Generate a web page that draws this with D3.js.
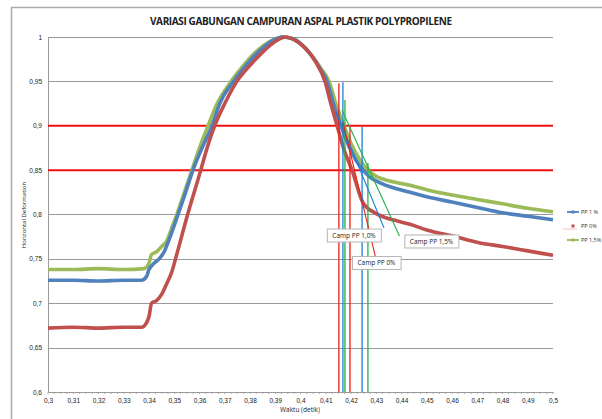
<!DOCTYPE html>
<html>
<head>
<meta charset="utf-8">
<script src="https://cdn.jsdelivr.net/npm/d3@7/dist/d3.min.js"></script>
<style>
  body { margin: 0; background: #fff; }
  svg { display: block; font-family: "Open Sans", "Liberation Sans", sans-serif; }
  .tick text { fill: #222; }
</style>
</head>
<body>
<div id="chart"></div>
<script>
// Data (x = waktu in detik, y = horizontal deformation)
var pp15X = [0.300, 0.310, 0.320, 0.330, 0.338, 0.340, 0.341, 0.343, 0.345, 0.347, 0.349, 0.351, 0.354, 0.357, 0.360, 0.3634, 0.367, 0.3725, 0.378, 0.383, 0.388, 0.393, 0.397, 0.401, 0.405, 0.408, 0.4113, 0.414, 0.4172, 0.420, 0.423, 0.4267, 0.430, 0.435, 0.4434, 0.450, 0.460, 0.470, 0.480, 0.490, 0.500];
var pp15Y = [0.738, 0.738, 0.739, 0.738, 0.739, 0.745, 0.755, 0.758, 0.764, 0.770, 0.785, 0.800, 0.825, 0.850, 0.875, 0.900, 0.925, 0.950, 0.970, 0.985, 0.995, 1.000, 0.998, 0.990, 0.977, 0.965, 0.950, 0.925, 0.900, 0.880, 0.864, 0.850, 0.843, 0.838, 0.833, 0.828, 0.822, 0.817, 0.812, 0.807, 0.803];

var pp1X = [0.300, 0.310, 0.320, 0.330, 0.337, 0.339, 0.340, 0.342, 0.344, 0.346, 0.348, 0.3515, 0.3545, 0.3574, 0.361, 0.365, 0.368, 0.3735, 0.379, 0.384, 0.389, 0.393, 0.397, 0.401, 0.405, 0.408, 0.4105, 0.413, 0.416, 0.419, 0.422, 0.4248, 0.4275, 0.432, 0.4434, 0.450, 0.460, 0.470, 0.480, 0.490, 0.500];
var pp1Y = [0.726, 0.726, 0.725, 0.726, 0.726, 0.730, 0.738, 0.745, 0.750, 0.758, 0.772, 0.800, 0.825, 0.850, 0.875, 0.900, 0.925, 0.950, 0.970, 0.985, 0.996, 1.000, 0.998, 0.990, 0.977, 0.963, 0.950, 0.925, 0.900, 0.878, 0.861, 0.850, 0.842, 0.835, 0.825, 0.820, 0.814, 0.808, 0.802, 0.798, 0.794];

var pp0X = [0.300, 0.310, 0.320, 0.330, 0.337, 0.339, 0.340, 0.341, 0.343, 0.345, 0.347, 0.349, 0.3505, 0.3553, 0.3605, 0.363, 0.366, 0.370, 0.3748, 0.380, 0.385, 0.390, 0.394, 0.398, 0.402, 0.406, 0.4097, 0.412, 0.4145, 0.417, 0.4204, 0.4248, 0.430, 0.4366, 0.4434, 0.450, 0.460, 0.4711, 0.480, 0.490, 0.500];
var pp0Y = [0.672, 0.673, 0.672, 0.673, 0.673, 0.678, 0.685, 0.700, 0.703, 0.710, 0.722, 0.735, 0.750, 0.800, 0.850, 0.875, 0.900, 0.925, 0.950, 0.968, 0.983, 0.995, 1.000, 0.996, 0.987, 0.972, 0.950, 0.925, 0.900, 0.875, 0.850, 0.813, 0.801, 0.794, 0.789, 0.7825, 0.776, 0.768, 0.764, 0.759, 0.754];

var seriesNames = ["PP 1 %", "PP 0%", "PP 1,5%"];
var xTicks = [0.30, 0.31, 0.32, 0.33, 0.34, 0.35, 0.36, 0.37, 0.38, 0.39, 0.40, 0.41, 0.42, 0.43, 0.44, 0.45, 0.46, 0.47, 0.48, 0.49, 0.50];
var yTicks = [0.6, 0.65, 0.7, 0.75, 0.8, 0.85, 0.9, 0.95, 1];
var limitLines = [0.9, 0.85];

// vertical marker lines: x position, top value, series index
var markerX = [0.4152, 0.4168, 0.4176, 0.4196, 0.4244, 0.4267];
var markerTop = [0.948, 0.949, 0.929, 0.8986, 0.8986, 0.858];
var markerSeries = [1, 0, 2, 1, 0, 2];

// callouts: label, leader start, leader end, box centre
var calloutText = ["Camp PP 1,0%", "Camp PP 1,5%", "Camp PP 0%"];
var calloutSeries = [0, 2, 1];
var calloutFrom = [[0.4141, 0.9155], [0.4164, 0.9177], [0.4168, 0.904]];
var calloutTo = [[0.4331, 0.7848], [0.4392, 0.7758], [0.4297, 0.7521]];
var calloutAt = [[0.4212, 0.7763], [0.4519, 0.7696], [0.4301, 0.7454]];

// Layout
var W = 602, H = 419;
var plot = {left: 48, right: 553, top: 37, bottom: 392};
var seriesColor = ["#4f81bd", "#c0504d", "#9bbb59"];
var markColor = ["#1f7fd6", "#e8201c", "#22b04a"];

var svg = d3.select("#chart").append("svg")
    .attr("width", W)
    .attr("height", H);

var xScale = d3.scaleLinear().domain([0.3, 0.5]).range([plot.left, plot.right]);
var yScale = d3.scaleLinear().domain([0.6, 1]).range([plot.bottom, plot.top]);

var loc = d3.formatLocale({decimal: ",", thousands: ".", grouping: [3], currency: ["", ""]});
var fmt = loc.format(".2~f");

// outer chart frame (cut by the picture edge)
svg.append("rect")
    .attr("x", 11.5).attr("y", 7.5)
    .attr("width", 620).attr("height", 440)
    .attr("fill", "none")
    .attr("stroke", "#aaa")
    .attr("stroke-width", 1.5);

// title
svg.append("text")
    .attr("x", 301).attr("y", 25)
    .attr("text-anchor", "middle")
    .attr("font-size", 10)
    .attr("font-weight", "bold")
    .attr("textLength", 302)
    .attr("fill", "#222")
    .text("VARIASI GABUNGAN CAMPURAN ASPAL PLASTIK POLYPROPILENE");

// gridlines
var grid = svg.append("g");
grid.selectAll("line")
    .data(yTicks.filter(d => d > 0.6 && limitLines.indexOf(d) < 0))
    .enter().append("line")
    .attr("x1", plot.left).attr("x2", plot.right)
    .attr("y1", d => Math.round(yScale(d)) + 0.5)
    .attr("y2", d => Math.round(yScale(d)) + 0.5)
    .attr("stroke", "#9a9a9a")
    .attr("stroke-width", 1);

// y axis
var yAxisG = svg.append("g")
    .attr("transform", "translate(" + plot.left + ",0)")
    .call(d3.axisLeft(yScale).tickValues(yTicks).tickFormat(fmt).tickSize(0).tickPadding(6));
yAxisG.select(".domain").attr("stroke", "#9a9a9a");
yAxisG.selectAll("text").attr("font-size", 6.5);

// x axis
var xAxisG = svg.append("g")
    .attr("transform", "translate(0," + plot.bottom + ")")
    .call(d3.axisBottom(xScale).tickValues(xTicks).tickFormat(fmt).tickSize(0).tickPadding(6));
xAxisG.select(".domain").attr("stroke", "#9a9a9a");
xAxisG.selectAll("text").attr("font-size", 6.5);

// minor ticks along bottom axis
svg.append("g").selectAll("line")
    .data(d3.range(0, 81).map(i => 0.3 + i * 0.0025))
    .enter().append("line")
    .attr("x1", d => xScale(d)).attr("x2", d => xScale(d))
    .attr("y1", plot.bottom).attr("y2", plot.bottom + 2)
    .attr("stroke", "#9a9a9a")
    .attr("stroke-width", 0.8);

// axis titles
svg.append("text")
    .attr("x", 300).attr("y", 412)
    .attr("text-anchor", "middle")
    .attr("font-size", 6.5)
    .attr("fill", "#222")
    .text("Waktu (detik)");
svg.append("text")
    .attr("transform", "translate(26,215)rotate(-90)")
    .attr("text-anchor", "middle")
    .attr("font-size", 6)
    .attr("fill", "#222")
    .text("Horizontal Deformation");

// red limit lines
svg.append("g").selectAll("line")
    .data(limitLines)
    .enter().append("line")
    .attr("x1", plot.left).attr("x2", plot.right)
    .attr("y1", d => yScale(d)).attr("y2", d => yScale(d))
    .attr("stroke", "#f01010")
    .attr("stroke-width", 2);

// series
var seriesX = [pp1X, pp0X, pp15X];
var seriesY = [pp1Y, pp0Y, pp15Y];
var line = d3.line()
    .x(d => xScale(d[0]))
    .y(d => yScale(d[1]))
    .curve(d3.curveMonotoneX);

[2, 0, 1].forEach(function(s) {
    var pts = seriesX[s].map((x, i) => [x, seriesY[s][i]]);
    svg.append("path")
        .datum(pts)
        .attr("d", line)
        .attr("fill", "none")
        .attr("stroke", seriesColor[s])
        .attr("stroke-width", 3.6)
        .attr("stroke-linejoin", "round");
});

// vertical marker lines
svg.append("g").selectAll("line")
    .data(markerX)
    .enter().append("line")
    .attr("x1", d => xScale(d)).attr("x2", d => xScale(d))
    .attr("y1", (d, i) => yScale(markerTop[i]))
    .attr("y2", plot.bottom)
    .attr("stroke", (d, i) => markColor[markerSeries[i]])
    .attr("stroke-width", 1.3);

// callout leaders and boxes
calloutText.forEach(function(t, i) {
    svg.append("line")
        .attr("x1", xScale(calloutFrom[i][0])).attr("y1", yScale(calloutFrom[i][1]))
        .attr("x2", xScale(calloutTo[i][0])).attr("y2", yScale(calloutTo[i][1]))
        .attr("stroke", markColor[calloutSeries[i]])
        .attr("stroke-width", 1.1);
});
calloutText.forEach(function(t, i) {
    var cx = xScale(calloutAt[i][0]), cy = yScale(calloutAt[i][1]);
    var g = svg.append("g").attr("transform", "translate(" + cx + "," + cy + ")");
    var box = g.append("rect")
        .attr("fill", "#fff")
        .attr("stroke", "#b5b5b5")
        .attr("stroke-width", 1);
    var txt = g.append("text")
        .attr("text-anchor", "middle")
        .attr("dy", "0.35em")
        .attr("font-size", 6.5)
        .attr("fill", "#222")
        .text(t);
    var bb = txt.node().getBBox();
    box.attr("x", bb.x - 5).attr("y", -6.5)
        .attr("width", bb.width + 10).attr("height", 13);
});

// legend
var legend = svg.append("g").attr("transform", "translate(567,212)");
seriesNames.forEach(function(name, i) {
    var g = legend.append("g").attr("transform", "translate(0," + (i * 14) + ")");
    if (i === 1) {
        g.append("line")
            .attr("x1", -4).attr("x2", 10).attr("y1", 3).attr("y2", 3)
            .attr("stroke", "#f4c4c4").attr("stroke-width", 1);
        g.append("rect")
            .attr("x", 4.5).attr("y", -1.5).attr("width", 3).attr("height", 3)
            .attr("fill", seriesColor[i]);
    } else {
        g.append("line")
            .attr("x1", 0).attr("x2", 12)
            .attr("stroke", seriesColor[i]).attr("stroke-width", 1.8);
        g.append("rect")
            .attr("x", 4.5).attr("y", -1.5).attr("width", 3).attr("height", 3)
            .attr("fill", seriesColor[i]);
    }
    g.append("text")
        .attr("x", 14).attr("dy", "0.35em")
        .attr("font-size", 5.5)
        .attr("fill", "#333")
        .text(name);
});
</script>
</body>
</html>
